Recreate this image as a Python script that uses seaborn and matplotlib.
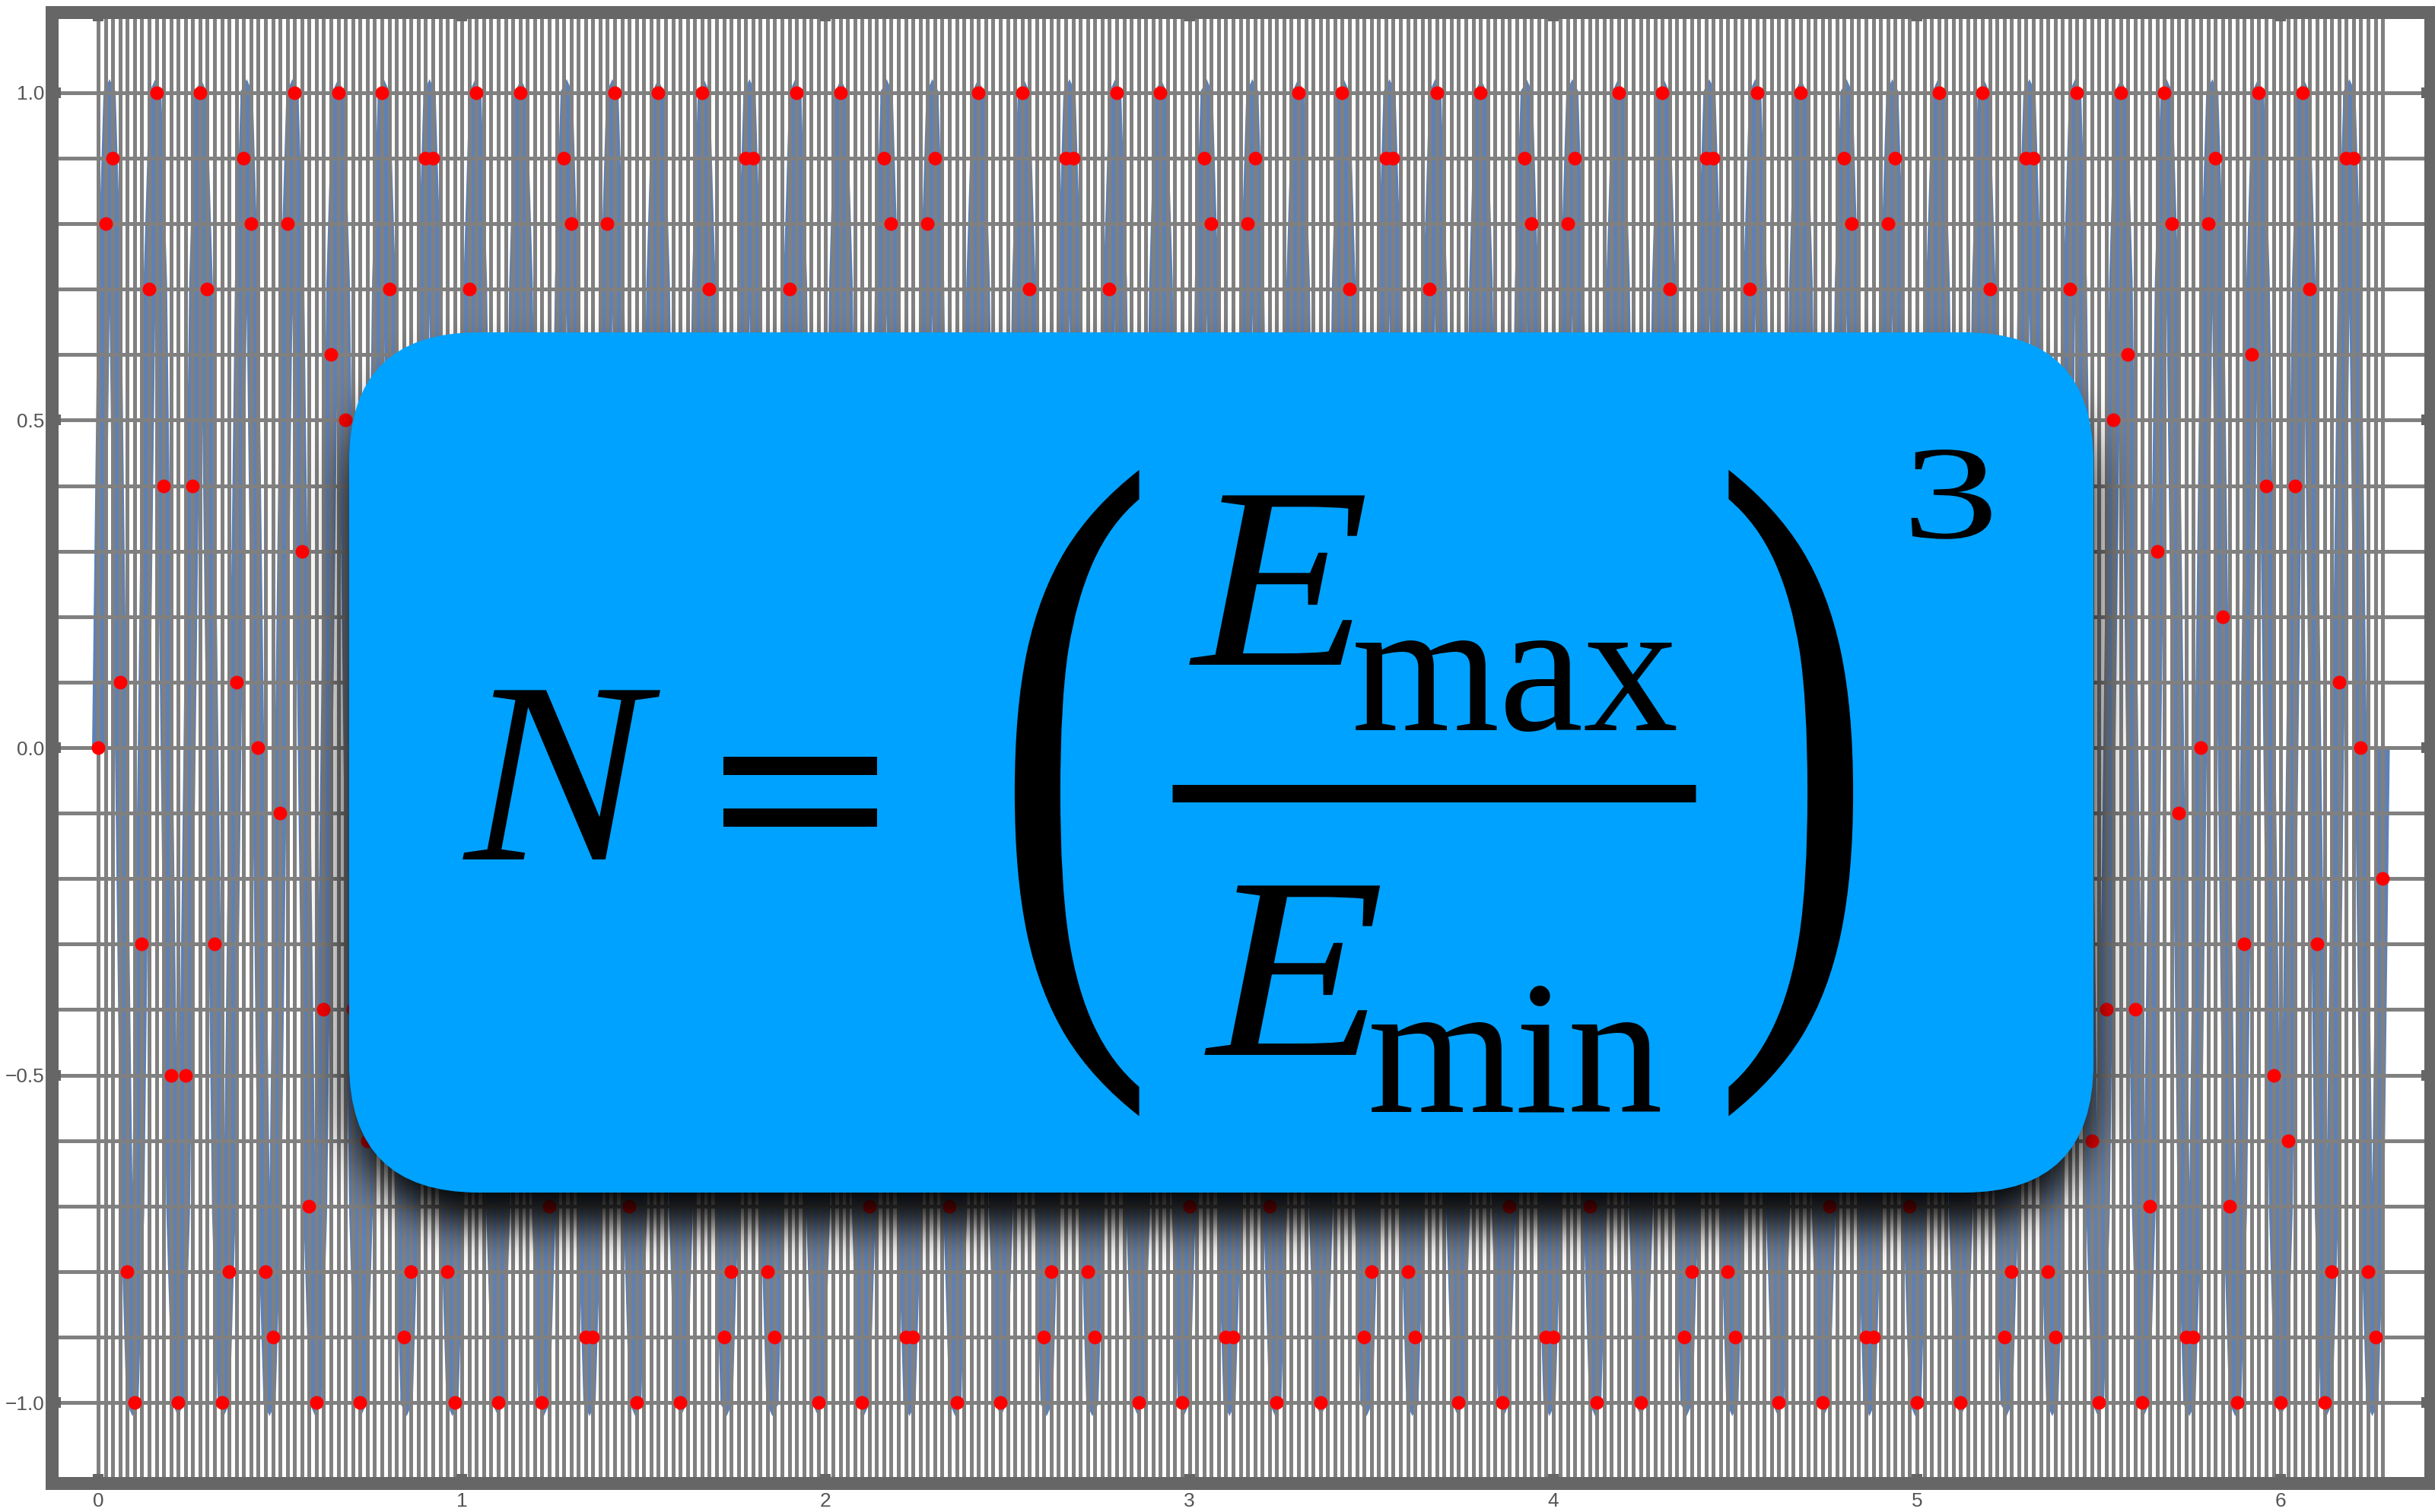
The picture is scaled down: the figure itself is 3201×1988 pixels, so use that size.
import numpy as np
import matplotlib
matplotlib.use("Agg")
import matplotlib.pyplot as plt
import seaborn as sns
from matplotlib.patches import FancyBboxPatch
from matplotlib.patheffects import AbstractPathEffect
from matplotlib.transforms import Affine2D, IdentityTransform
from matplotlib.path import Path

W, H, DPI = 3201, 1988, 300
PT = 72.0 / DPI  # points per output pixel

plt.rcParams["font.family"] = ["Liberation Sans", "DejaVu Sans"]

# ---- data -------------------------------------------------------------
# samples taken every 0.02 on [0, 2*pi], rounded to one decimal
sample_step = 0.02
sample_y = [
    0.0, 0.8, 0.9, 0.1, -0.8, -1.0, -0.3, 0.7, 1.0, 0.4, -0.5, -1.0, -0.5, 0.4, 1.0, 0.7, -0.3, -1.0, -0.8, 0.1, 0.9, 0.8,
    0.0, -0.8, -0.9, -0.1, 0.8, 1.0, 0.3, -0.7, -1.0, -0.4, 0.6, 1.0, 0.5, -0.4, -1.0, -0.6, 0.3, 1.0, 0.7, -0.2, -0.9, -0.8,
    0.0, 0.9, 0.9, 0.1, -0.8, -1.0, -0.3, 0.7, 1.0, 0.4, -0.6, -1.0, -0.5, 0.4, 1.0, 0.6, -0.3, -1.0, -0.7, 0.2, 0.9, 0.8,
    0.0, -0.9, -0.9, -0.1, 0.8, 1.0, 0.3, -0.7, -1.0, -0.4, 0.6, 1.0, 0.5, -0.4, -1.0, -0.6, 0.3, 1.0, 0.7, -0.2, -0.9, -0.8,
    0.0, 0.9, 0.9, 0.1, -0.8, -0.9, -0.2, 0.7, 1.0, 0.4, -0.6, -1.0, -0.5, 0.5, 1.0, 0.6, -0.3, -1.0, -0.7, 0.2, 0.9, 0.8,
    0.0, -0.9, -0.9, -0.1, 0.8, 0.9, 0.2, -0.7, -1.0, -0.4, 0.6, 1.0, 0.5, -0.5, -1.0, -0.6, 0.3, 1.0, 0.7, -0.2, -0.9, -0.8,
    0.1, 0.9, 0.9, 0.1, -0.8, -0.9, -0.2, 0.7, 1.0, 0.4, -0.6, -1.0, -0.5, 0.5, 1.0, 0.6, -0.3, -1.0, -0.7, 0.2, 0.9, 0.8,
    -0.1, -0.9, -0.9, -0.1, 0.8, 0.9, 0.2, -0.7, -1.0, -0.4, 0.6, 1.0, 0.5, -0.5, -1.0, -0.6, 0.3, 1.0, 0.7, -0.2, -0.9, -0.8,
    0.1, 0.9, 0.9, 0.1, -0.8, -0.9, -0.2, 0.7, 1.0, 0.3, -0.6, -1.0, -0.5, 0.5, 1.0, 0.6, -0.4, -1.0, -0.7, 0.2, 0.9, 0.8,
    -0.1, -0.9, -0.9, -0.1, 0.8, 0.9, 0.2, -0.7, -1.0, -0.3, 0.6, 1.0, 0.5, -0.5, -1.0, -0.6, 0.4, 1.0, 0.7, -0.2, -0.9, -0.8,
    0.1, 0.9, 0.9, 0.1, -0.8, -0.9, -0.2, 0.7, 1.0, 0.3, -0.6, -1.0, -0.5, 0.5, 1.0, 0.6, -0.4, -1.0, -0.7, 0.2, 0.9, 0.8,
    -0.1, -0.9, -0.9, 0.0, 0.8, 0.9, 0.2, -0.7, -1.0, -0.3, 0.6, 1.0, 0.5, -0.5, -1.0, -0.6, 0.4, 1.0, 0.7, -0.2, -0.9, -0.8,
    0.1, 0.9, 0.9, 0.0, -0.8, -0.9, -0.2, 0.7, 1.0, 0.3, -0.6, -1.0, -0.4, 0.5, 1.0, 0.6, -0.4, -1.0, -0.7, 0.3, 1.0, 0.8,
    -0.1, -0.9, -0.9, 0.0, 0.8, 0.9, 0.2, -0.7, -1.0, -0.3, 0.6, 1.0, 0.4, -0.5, -1.0, -0.6, 0.4, 1.0, 0.7, -0.3, -1.0, -0.8,
    0.1, 0.9, 0.9, 0.0, -0.8, -0.9, -0.2,
]
sample_x = np.round(np.arange(len(sample_y)) * sample_step, 2)

# the oscillating curve: start of each of its 50 cycles plus the shape of one cycle
cycle_start = [
    0.0000, 0.1257, 0.2513, 0.3770, 0.5027, 0.6283, 0.7540, 0.8796, 1.0053, 1.1310,
    1.2566, 1.3823, 1.5080, 1.6336, 1.7593, 1.8850, 2.0106, 2.1363, 2.2619, 2.3876,
    2.5133, 2.6389, 2.7646, 2.8903, 3.0159, 3.1416, 3.2673, 3.3929, 3.5186, 3.6442,
    3.7699, 3.8956, 4.0212, 4.1469, 4.2726, 4.3982, 4.5239, 4.6496, 4.7752, 4.9009,
    5.0265, 5.1522, 5.2779, 5.4035, 5.5292, 5.6549, 5.7805, 5.9062, 6.0319, 6.1575,
]
cycle_dx = [0.0, 0.0157, 0.0314, 0.0471, 0.0628, 0.0785, 0.0942, 0.1100]
cycle_y = [0.0, 0.71, 1.0, 0.71, 0.0, -0.71, -1.0, -0.71]
curve_end = (6.2832, 0.0)

wave_x = np.append(np.add.outer(cycle_start, cycle_dx).ravel(), curve_end[0])
wave_y = np.append(np.tile(cycle_y, len(cycle_start)), curve_end[1])

grid_levels = [-1.0, -0.9, -0.8, -0.7, -0.6, -0.5, -0.4, -0.3, -0.2, -0.1, 0.0,
               0.1, 0.2, 0.3, 0.4, 0.5, 0.6, 0.7, 0.8, 0.9, 1.0]
x_ticks = [0, 1, 2, 3, 4, 5, 6]
x_tick_labels = ["0", "1", "2", "3", "4", "5", "6"]
y_ticks = [-1.0, -0.5, 0.0, 0.5, 1.0]
y_tick_labels = ["\u22121.0", "\u22120.5", "0.0", "0.5", "1.0"]


class PointedJoins(AbstractPathEffect):
    """Stroke the line normally, then add pointed (clipped-miter) tips at sharp corners."""

    def __init__(self, tip_px=17.0, max_angle_deg=90.0):
        super().__init__()
        self._tip = tip_px
        self._max_angle = np.radians(max_angle_deg)

    def draw_path(self, renderer, gc, tpath, affine, rgbFace=None):
        renderer.draw_path(gc, tpath, affine, rgbFace)
        v = affine.transform(tpath.vertices)
        if len(v) < 3:
            return
        half = renderer.points_to_pixels(gc.get_linewidth()) / 2.0
        verts, codes = [], []
        for i in range(1, len(v) - 1):
            a, b, c = v[i - 1], v[i], v[i + 1]
            d1 = b - a
            d2 = c - b
            l1, l2 = np.hypot(*d1), np.hypot(*d2)
            if l1 == 0 or l2 == 0:
                continue
            d1, d2 = d1 / l1, d2 / l2
            ang = np.arccos(np.clip(np.dot(-d1, d2), -1, 1))
            if ang > self._max_angle:
                continue
            o = d1 - d2
            o /= np.hypot(*o)
            n1 = np.array([-d1[1], d1[0]])
            n2 = np.array([-d2[1], d2[0]])
            if np.dot(n1, o) < 0:
                n1 = -n1
            if np.dot(n2, o) < 0:
                n2 = -n2
            length = min(half / max(np.sin(ang / 2), 1e-6), self._tip)
            p1, p2, apex = b + n1 * half, b + n2 * half, b + o * length
            verts += [b, p1, apex, p2, b]
            codes += [Path.MOVETO, Path.LINETO, Path.LINETO, Path.LINETO, Path.CLOSEPOLY]
        if not verts:
            return
        gc0 = renderer.new_gc()
        gc0.copy_properties(gc)
        gc0.set_linewidth(0)
        renderer.draw_path(gc0, Path(np.array(verts), codes), IdentityTransform(),
                           gc.get_rgb())
        gc0.restore()


# ---- plot -------------------------------------------------------------
fig = plt.figure(figsize=(W / DPI, H / DPI), dpi=DPI)
fig.patch.set_facecolor("white")

left, right, top, bottom = 68, 3195, 16, 1950
ax = fig.add_axes([left / W, 1 - bottom / H, (right - left) / W, (bottom - top) / H])

sns.lineplot(x=wave_x, y=wave_y, ax=ax, color="#5E81B5", linewidth=16 * PT,
             sort=False, estimator=None, zorder=1,
             solid_joinstyle="round", solid_capstyle="butt",
             path_effects=[PointedJoins(tip_px=18)])
ax.vlines(sample_x, 0, 1, transform=ax.get_xaxis_transform(),
          colors="#808080", linewidth=5 * PT, zorder=2)
ax.hlines(grid_levels, 0, 1, transform=ax.get_yaxis_transform(),
          colors="#808080", linewidth=5 * PT, zorder=2)
sns.scatterplot(x=sample_x, y=sample_y, ax=ax, color="#ff0000", s=(18 * PT) ** 2,
                linewidth=0, zorder=3, legend=False)

ax.set_xlim(-0.1276, 6.4116)
ax.set_ylim(-1.1231, 1.1231)
ax.set_xlabel("")
ax.set_ylabel("")
ax.set_xticks(x_ticks, x_tick_labels)
ax.set_yticks(y_ticks, y_tick_labels)
ax.set_axisbelow(False)
ax.tick_params(which="both", direction="in", length=12 * PT, width=14 * PT,
               color="#666666", top=True, right=True, labelsize=6.3,
               labelcolor="#555555")
ax.tick_params(axis="x", pad=12 * PT)
ax.tick_params(axis="y", pad=10 * PT)
for sp in ax.spines.values():
    sp.set_linewidth(17 * PT)
    sp.set_color("#666666")
    sp.set_zorder(4)

# ---- formula card -----------------------------------------------------
ov = fig.add_axes([0, 0, 1, 1], zorder=5)
ov.set_axis_off()
ov.patch.set_alpha(0)

box_x0, box_y0, box_x1, box_y1, box_r = 459, 437, 2752, 1568, 170

# soft drop shadow under the card, computed on a coarse pixel grid
f = 4
gx = (np.arange(W // f + 1) + 0.5) * f
gy = (np.arange(H // f) + 0.5) * f
X, Y = np.meshgrid(gx, gy)
sh_dy = 42
cx, cy = (box_x0 + box_x1) / 2, (box_y0 + box_y1) / 2 + sh_dy
hx, hy = (box_x1 - box_x0) / 2 - box_r, (box_y1 - box_y0) / 2 - box_r
qx, qy = np.abs(X - cx) - hx, np.abs(Y - cy) - hy
dist = (np.hypot(np.maximum(qx, 0), np.maximum(qy, 0))
        + np.minimum(np.maximum(qx, qy), 0) - box_r)
mask = np.clip(0.5 - dist / f, 0, 1)
sigma = 28 / f
R = int(3 * sigma) + 1
kern = np.exp(-0.5 * (np.arange(-R, R + 1) / sigma) ** 2)
kern /= kern.sum()


def blur(a, axis):
    pad = [(0, 0), (0, 0)]
    pad[axis] = (R, R)
    p = np.pad(a, pad, mode="constant")
    n = a.shape[axis]
    out = np.zeros_like(a)
    for i, w in enumerate(kern):
        out += w * np.take(p, np.arange(i, i + n), axis=axis)
    return out


shade = blur(blur(mask, 0), 1)
rgba = np.zeros(shade.shape + (4,))
rgba[..., 3] = 0.98 * shade
ov.imshow(rgba, extent=(0, len(gx) * f, len(gy) * f, 0), interpolation="bilinear",
          aspect="auto", zorder=1)

card = FancyBboxPatch((box_x0, box_y0), box_x1 - box_x0, box_y1 - box_y0,
                      boxstyle=f"round,pad=0,rounding_size={box_r}",
                      facecolor="#00A2FF", edgecolor="none", zorder=2)
ov.add_patch(card)
ov.set_xlim(0, W)
ov.set_ylim(H, 0)


class StretchX(AbstractPathEffect):
    """Scale a glyph horizontally about a fixed x position (in pixels)."""

    def __init__(self, cx, sx):
        super().__init__()
        self._cx = cx
        self._sx = sx

    def draw_path(self, renderer, gc, tpath, affine, rgbFace=None):
        squeeze = Affine2D().translate(-self._cx, 0).scale(self._sx, 1).translate(self._cx, 0)
        renderer.draw_path(gc, tpath, affine + squeeze, rgbFace)


serif = "Liberation Serif"
big = 340 * PT
sub = 250 * PT
paren = 937 * PT
kw = dict(family=serif, color="black", va="baseline", zorder=3)

ov.text(731, 1130, "N", fontsize=big, style="italic", ha="center",
        path_effects=[StretchX(731, 1.06)], **kw)
ov.text(1053, 1154, "=", fontsize=big, weight="bold", ha="center",
        path_effects=[StretchX(1053, 1.28)], **kw)
ov.text(1412, 1268, "(", fontsize=paren, ha="center",
        path_effects=[StretchX(1412, 0.68)], **kw)
ov.text(1684, 874, "E", fontsize=big, style="italic", ha="center",
        path_effects=[StretchX(1684, 1.12)], **kw)
ov.text(1777, 960, "max", fontsize=sub, ha="left", **kw)
ov.plot([1541, 2229], [1043, 1043], color="black", linewidth=23 * PT,
        solid_capstyle="butt", zorder=3)
ov.text(1704, 1387, "E", fontsize=big, style="italic", ha="center",
        path_effects=[StretchX(1704, 1.12)], **kw)
ov.text(1798, 1462, "min", fontsize=sub, ha="left", **kw)
ov.text(2358, 1268, ")", fontsize=paren, ha="center",
        path_effects=[StretchX(2358, 0.68)], **kw)
ov.text(2564, 707, "3", fontsize=175 * PT, ha="center",
        path_effects=[StretchX(2564, 1.45)], **kw)

fig.savefig("out.png", dpi=DPI, facecolor="white")
